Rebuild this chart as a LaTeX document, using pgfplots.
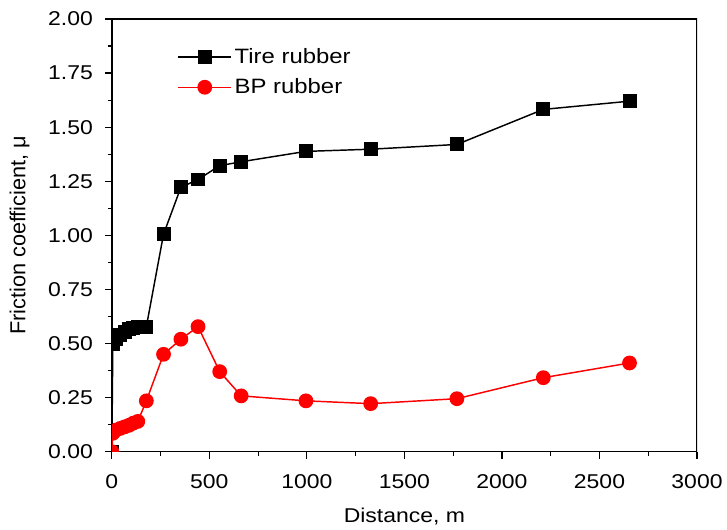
\documentclass[border=0pt]{standalone}
\usepackage{pgfplots}
\pgfplotsset{compat=1.18}
\usepackage{fontspec}
\setmainfont{Liberation Sans}
\newfontfamily\wfont[FakeStretch=1.15]{Liberation Sans}

\begin{document}
\begin{tikzpicture}
  \begin{axis}[
      scale only axis, width=439.5pt, height=325pt,
      xmin=0, xmax=3000, ymin=0, ymax=2,
      xtick={0,500,...,3000}, minor x tick num=1,
      ytick={0,0.25,...,2}, minor y tick num=1,
      axis x line*=bottom, axis y line*=left,
      tick align=outside, tick style={black, line width=0.9pt},
      major tick length=5.25pt, minor tick length=3pt,
      axis line style={line width=1pt},
      /pgf/number format/assume math mode=true,
      yticklabel style={/pgf/number format/fixed, /pgf/number format/fixed zerofill,
        /pgf/number format/precision=2, xshift=-5.5pt},
      xticklabel style={/pgf/number format/set thousands separator={}, yshift=-8.6pt},
      ticklabel style={font={\wfont\fontsize{15}{17}\selectfont}},
      xlabel style={font={\wfont\fontsize{15}{17}\selectfont},
        at={(rel axis cs:0.5,0)}, anchor=center, yshift=-48.5pt},
      ylabel style={font=\fontsize{16.3}{18}\selectfont},
      ylabel shift=7pt,
      xlabel={Distance, m}, ylabel={Friction coefficient, μ},
      legend style={draw=none, fill=none, at={(0.105,0.945)}, anchor=north west,
        font={\wfont\fontsize{15.6}{18}\selectfont}, row sep=6pt},
      legend cell align=left,
      legend image code/.code={
        \draw[mark repeat=2, mark phase=2, #1] plot coordinates {(0cm,0cm) (0.7cm,0cm) (1.4cm,0cm)};},
      clip marker paths=true,
    ]
    \draw[line width=1pt] (rel axis cs:0,1) -- (rel axis cs:1,1) -- (rel axis cs:1,0);
    \addplot[black, line width=1.1pt, mark=square*, mark size=4.7pt] coordinates {
      (0,0) (5,0.50) (22,0.52) (44,0.54) (66,0.555) (88,0.565) (110,0.57) (133,0.575) (177,0.578)
      (265,1.005) (354,1.222) (442,1.258) (553,1.322) (663,1.340) (995,1.388)
      (1327,1.398) (1769,1.420) (2212,1.582) (2654,1.620)
    };
    \addlegendentry{Tire rubber}
    \addplot[red, line width=1.1pt, mark=*, mark size=5pt] coordinates {
      (0,0) (5,0.085) (22,0.10) (44,0.108) (66,0.115) (88,0.122) (110,0.132) (133,0.14) (177,0.235)
      (265,0.450) (354,0.520) (442,0.578) (553,0.370) (663,0.258) (995,0.235)
      (1327,0.222) (1769,0.245) (2212,0.342) (2654,0.410)
    };
    \addlegendentry{BP rubber}
  \end{axis}
  \path (current axis.south west) ++(-84pt,-58pt);
  \path (current axis.north west) ++(0pt,14.25pt);
\end{tikzpicture}
\end{document}
